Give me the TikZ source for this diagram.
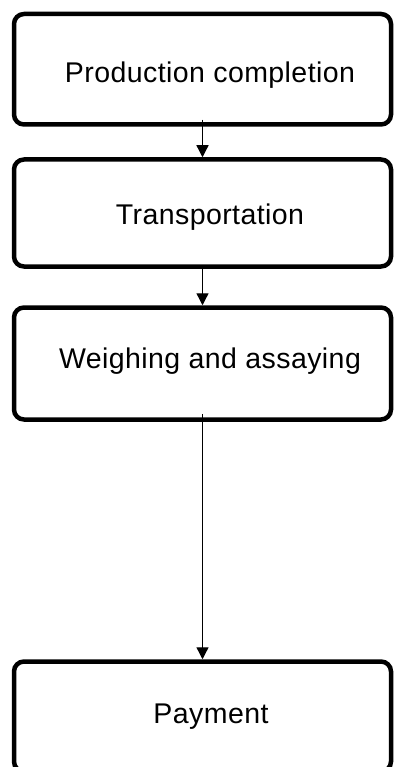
\documentclass[tikz,border=0pt]{standalone}
\usepackage{fontspec}
\setmainfont{Liberation Sans}[LetterSpace=1.5]
\usetikzlibrary{arrows.meta}
\begin{document}
\begin{tikzpicture}[x=1pt,y=-1pt,
    box/.style={draw,line width=4.5pt,rounded corners=10pt,minimum width=377pt,inner sep=0pt},
    lbl/.style={anchor=base,inner sep=0pt,font=\fontsize{28.5}{30}\selectfont},
    arr/.style={line width=1.3pt,-{Triangle[width=12pt,length=12pt]}}]
        \useasboundingbox (0,0) rectangle (395,767);
        \clip (0,0) rectangle (395,767);

        \node[box,minimum height=110.5pt] (prod) at (202.5,69.25) {};
        \node[box,minimum height=107pt] (trans) at (202.5,213) {};
        \node[box,minimum height=112pt] (weigh) at (202.5,363.5) {};
        \node[box,minimum height=110pt] (pay) at (202.5,716.5) {};

        \node[lbl] (prodtext) at (210,83) {Production completion};
        \node[lbl] (transtext) at (210,224) {Transportation};
        \node[lbl] (weightext) at (210,368) {Weighing and assaying};
        \node[lbl] (paytext) at (211,723) {Payment};

        \draw[arr] ([yshift=7pt]prod.south) -- (trans.north);
        \draw[arr] (trans.south) -- (weigh.north);
        \draw[arr] ([yshift=8pt]weigh.south) -- (pay.north);
    \end{tikzpicture}
\end{document}
